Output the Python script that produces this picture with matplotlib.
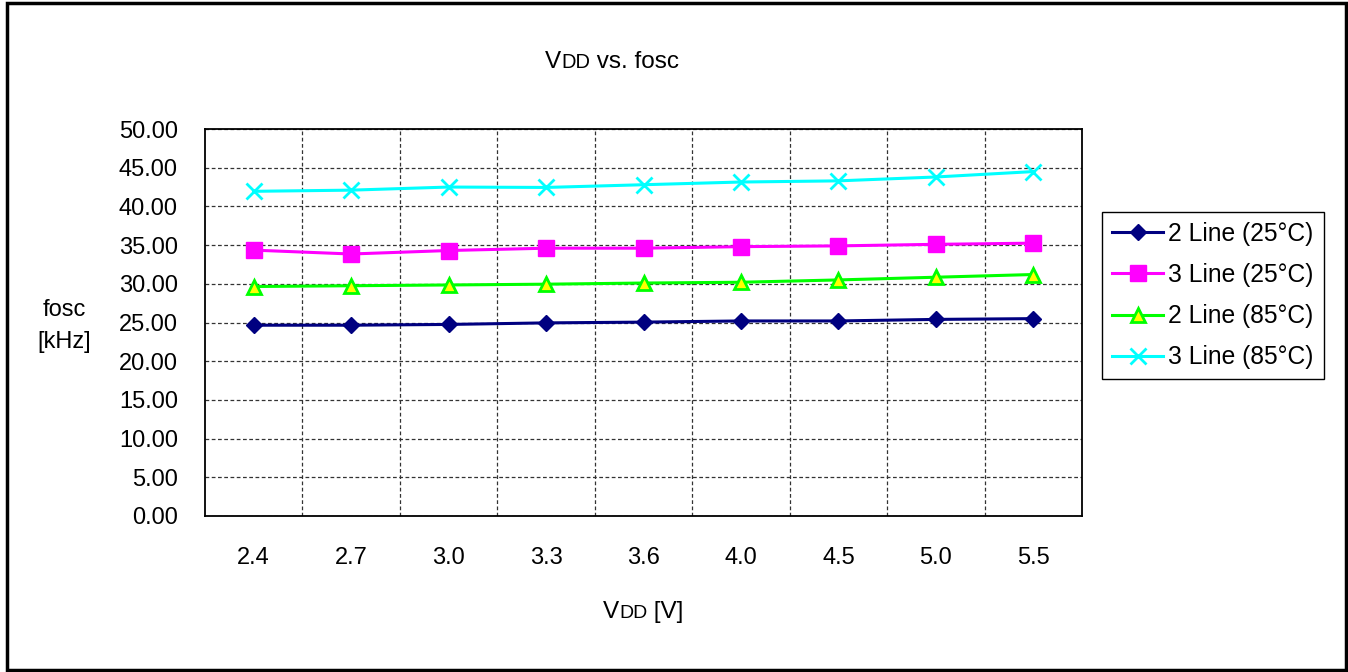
import matplotlib
matplotlib.use("Agg")
import matplotlib.pyplot as plt
from matplotlib.patches import Rectangle
from matplotlib.ticker import FixedLocator, FormatStrFormatter

plt.rcParams['font.family'] = ['Liberation Sans', 'DejaVu Sans']

# data
vdd = ['2.4', '2.7', '3.0', '3.3', '3.6', '4.0', '4.5', '5.0', '5.5']
line2_25 = [24.65, 24.65, 24.75, 24.95, 25.05, 25.2, 25.2, 25.4, 25.5]
line3_25 = [34.35, 33.85, 34.3, 34.6, 34.6, 34.8, 34.9, 35.1, 35.25]
line2_85 = [29.65, 29.75, 29.85, 29.95, 30.1, 30.2, 30.5, 30.85, 31.2]
line3_85 = [41.95, 42.1, 42.5, 42.45, 42.8, 43.15, 43.3, 43.8, 44.5]

W, H = 1348, 672
fig = plt.figure(figsize=(W / 100, H / 100), dpi=100)
ax = fig.add_axes([205 / W, 1 - 516 / H, (1082 - 205) / W, (516 - 129) / H])

x = list(range(len(vdd)))
ax.plot(x, line2_25, color='#000080', lw=2.2, marker='D', ms=8,
        label='2 Line (25°C)', zorder=3)
ax.plot(x, line3_25, color='#FF00FF', lw=2.2, marker='s', ms=11,
        label='3 Line (25°C)', zorder=3)
ax.plot(x, line2_85, color='#00FF00', lw=2.2, marker='^', ms=10,
        mfc='#FFFF00', mec='#00FF00', mew=2, label='2 Line (85°C)', zorder=3)
ax.plot(x, line3_85, color='#00FFFF', lw=2.2, marker='x', ms=11,
        mew=2, label='3 Line (85°C)', zorder=3)

ax.set_xlim(-0.5, len(vdd) - 0.5)
ax.set_ylim(0, 50)
ax.set_xticks(x)
ax.set_xticklabels(vdd)
ax.xaxis.set_minor_locator(FixedLocator([i + 0.5 for i in range(len(vdd) - 1)]))
ax.set_yticks([i * 5 for i in range(11)])
ax.yaxis.set_major_formatter(FormatStrFormatter('%.2f'))

ax.tick_params(axis='x', which='both', length=0, pad=22, labelsize=17)
ax.tick_params(axis='y', which='both', length=0, pad=19.5, labelsize=17)
ax.grid(axis='y', which='major', color='#333333', lw=0.9, linestyle=(0, (3, 2)))
ax.grid(axis='x', which='minor', color='#333333', lw=0.9, linestyle=(0, (3, 2)))
for s in ax.spines.values():
    s.set_color('black')
    s.set_linewidth(1.3)

leg = ax.legend(loc='upper left', bbox_to_anchor=(1102 / W, 1 - 212 / H),
                bbox_transform=fig.transFigure, fontsize=17.7, frameon=True,
                fancybox=False, edgecolor='black', framealpha=1,
                handlelength=2.1, handletextpad=0.2, borderpad=0.4,
                labelspacing=0.7, borderaxespad=0)
leg.get_frame().set_linewidth(1.0)


def small_caps_label(x0, y0, big, small, rest, size, small_size):
    t1 = fig.text(x0, y0, big, fontsize=size, va='baseline', ha='left')
    t2 = ax.annotate(small, xy=(1, y0), xycoords=(t1, 'figure fraction'),
                     fontsize=small_size, va='baseline', ha='left')
    ax.annotate(rest, xy=(1, y0), xycoords=(t2, 'figure fraction'),
                fontsize=size, va='baseline', ha='left')


# title and axis labels
small_caps_label(545 / W, 1 - 68 / H, 'V', 'DD', ' vs. fosc', 17.5, 14.5)
small_caps_label(603 / W, 1 - 618 / H, 'V', 'DD', ' [V]', 17.5, 14)
fig.text(64 / W, 1 - 316 / H, 'fosc', fontsize=17, ha='center', va='baseline')
fig.text(64 / W, 1 - 348 / H, '[kHz]', fontsize=17, ha='center', va='baseline')

# outer frame
fig.patches.append(Rectangle((7 / W, 1 - 670 / H), (1346 - 7) / W, (670 - 3) / H,
                             transform=fig.transFigure, fill=False,
                             edgecolor='black', lw=2.5))

fig.savefig('out.png', dpi=100)
